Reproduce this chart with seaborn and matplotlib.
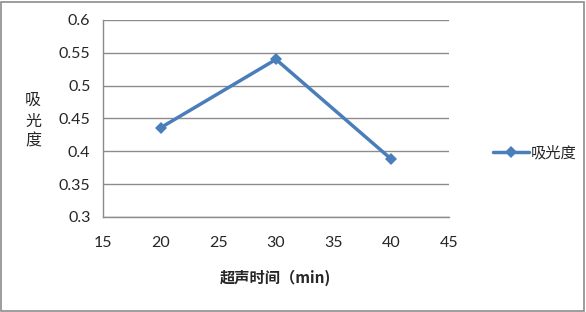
import pandas as pd
import matplotlib
matplotlib.use("Agg")
import matplotlib.pyplot as plt
import seaborn as sns
from matplotlib.patches import Rectangle

# data
times = [20, 30, 40]
absorbance = [0.436, 0.540, 0.388]
series_name = "吸光度"
x_ticks = [15, 20, 25, 30, 35, 40, 45]
y_ticks = [0.3, 0.35, 0.4, 0.45, 0.5, 0.55, 0.6]

df = pd.DataFrame({"time": times, "value": absorbance, "series": series_name})

sns.set_style("white")
plt.rcParams['font.family'] = ['Lato', 'Noto Sans CJK SC', 'DejaVu Sans']

fig = plt.figure(figsize=(5.86, 3.12), dpi=100)
ax = fig.add_axes([103 / 586, 95 / 312, 346 / 586, 197 / 312])

sns.lineplot(data=df, x="time", y="value", hue="series", palette=["#4A7EBB"],
             marker="D", markersize=6, linewidth=2.5, markeredgewidth=0, ax=ax)

ax.set_xlim(15, 45)
ax.set_ylim(0.3, 0.6)
ax.set_xticks(x_ticks)
ax.set_xticklabels([str(v) for v in x_ticks])
ax.set_yticks(y_ticks)
ax.set_yticklabels([f"{v:g}" for v in y_ticks])
ax.grid(axis="y", color="#8c8c8c", linewidth=1)
ax.set_axisbelow(True)
for s in ["top", "right"]:
    ax.spines[s].set_visible(False)
for s in ["left", "bottom"]:
    ax.spines[s].set_color("#8c8c8c")
    ax.spines[s].set_linewidth(1)
ax.tick_params(axis="both", direction="out", length=4, width=1, color="#8c8c8c",
               labelsize=11.5, pad=5)
ax.tick_params(axis="x", pad=10)
ax.set_xlabel("")
ax.set_ylabel("")

# axis titles
fig.text(33 / 586, 1 - 121 / 312, "吸\n光\n度", ha="center", va="center",
         fontsize=11.5, linespacing=1.25, family=['Noto Sans CJK SC', 'DejaVu Sans'])
fig.text(275 / 586, 1 - 278 / 312, "超声时间（min)", ha="center", va="center",
         fontsize=11, fontweight="bold", family=['Noto Sans CJK SC', 'DejaVu Sans'])

# legend
ax.legend(loc="center left", bbox_to_anchor=(479 / 586, 1 - 153 / 312),
          bbox_transform=fig.transFigure, frameon=False, handlelength=2.4,
          handletextpad=0.1, prop={"family": "Noto Sans CJK SC", "size": 11})

# outer border
fig.patches.append(Rectangle((0.002, 0.004), 0.994, 0.99, transform=fig.transFigure,
                             fill=False, edgecolor="#8c8c8c", linewidth=1.2))

fig.savefig("out.png", dpi=100)
